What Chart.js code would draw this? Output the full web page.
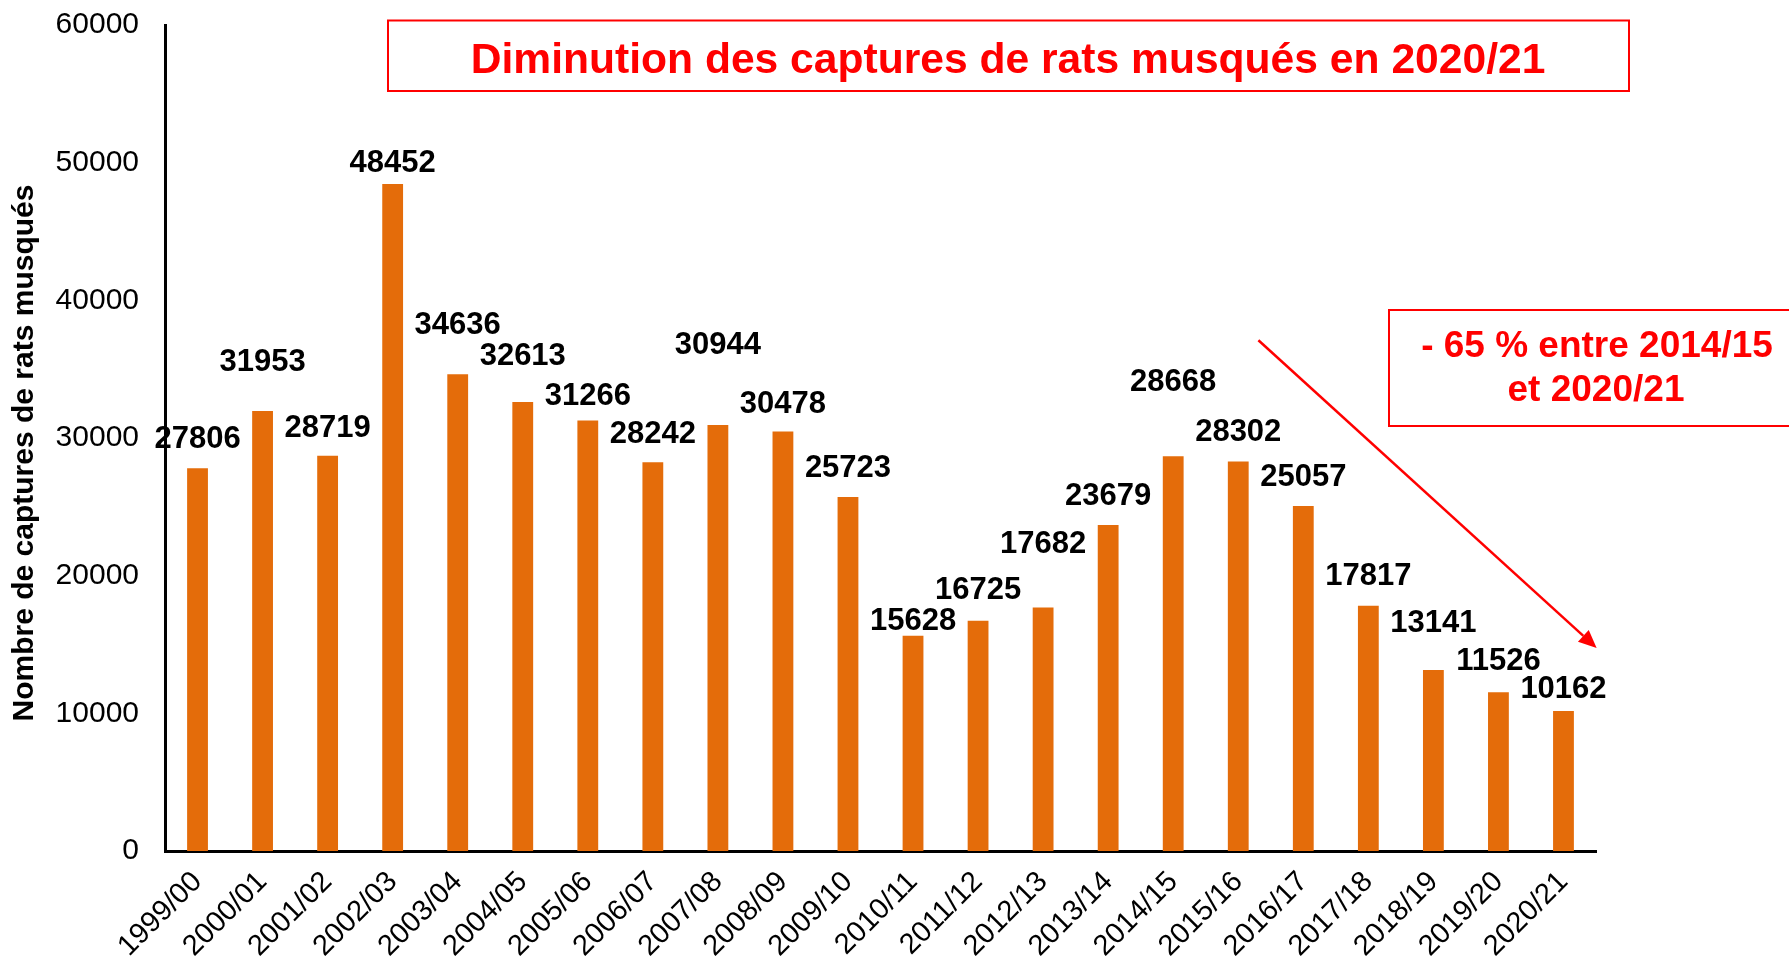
<!DOCTYPE html>
<html lang="fr">
<head>
    <meta charset="UTF-8">
    <title>Captures de rats musqués</title>
    <script src="https://cdn.jsdelivr.net/npm/chart.js"></script>
    <style>
        body { margin: 0; background: #fff; }
        #capturesChart { display: block; }
    </style>
</head>
<body>
    <canvas id="capturesChart" width="1789" height="967"></canvas>
    <script>
        const seasons = ['1999/00', '2000/01', '2001/02', '2002/03', '2003/04', '2004/05', '2005/06',
            '2006/07', '2007/08', '2008/09', '2009/10', '2010/11', '2011/12', '2012/13', '2013/14',
            '2014/15', '2015/16', '2016/17', '2017/18', '2018/19', '2019/20', '2020/21'];
        const captures = [27806, 31953, 28719, 48452, 34636, 32613, 31266, 28242, 30944, 30478, 25723,
            15628, 16725, 17682, 23679, 28668, 28302, 25057, 17817, 13141, 11526, 10162];
        const yTicks = [0, 10000, 20000, 30000, 40000, 50000, 60000];

        // how far above each bar its value label sits (labels were moved by hand in the original)
        const labelLift = [29, 49, 27, 21, 49, 46, 24, 28, 80, 27, 28, 14, 30, 63, 29, 74, 29, 29, 29, 47, 31, 22];

        const titleText = 'Diminution des captures de rats musqués en 2020/21';
        const yTitle = 'Nombre de captures de rats musqués';
        const noteLines = ['- 65 % entre 2014/15', 'et 2020/21'];
        // arrow in data units (category index, value)
        const arrowFrom = { x: 16.31, y: 37100 };
        const arrowTo = { x: 21.51, y: 14750 };

        const FONT = "'Liberation Sans', Arial, sans-serif";
        const RED = '#FF0000';

        const valueLabels = {
            id: 'valueLabels',
            afterDatasetsDraw(chart) {
                const ctx = chart.ctx;
                const bars = chart.getDatasetMeta(0).data;
                ctx.save();
                ctx.font = 'bold 31px ' + FONT;
                ctx.fillStyle = '#000';
                ctx.textAlign = 'center';
                ctx.textBaseline = 'middle';
                bars.forEach((bar, i) => {
                    ctx.fillText(String(captures[i]), bar.x, bar.y - labelLift[i]);
                });
                ctx.restore();
            }
        };

        const annotations = {
            id: 'annotations',
            afterDraw(chart) {
                const ctx = chart.ctx;
                const xs = chart.scales.x, ys = chart.scales.y;
                ctx.save();

                // y axis title, a bit below the middle of the axis as in the original
                ctx.save();
                ctx.translate(25, 453);
                ctx.rotate(-Math.PI / 2);
                ctx.font = 'bold 30px ' + FONT;
                ctx.fillStyle = '#000';
                ctx.textAlign = 'center';
                ctx.textBaseline = 'middle';
                ctx.fillText(yTitle, 0, 0);
                ctx.restore();

                // title box
                ctx.strokeStyle = RED;
                ctx.lineWidth = 2;
                ctx.strokeRect(388, 20.5, 1241, 70.5);
                ctx.fillStyle = RED;
                ctx.font = 'bold 42.6px ' + FONT;
                ctx.textAlign = 'center';
                ctx.textBaseline = 'alphabetic';
                ctx.fillText(titleText, 1008, 73);

                // note box
                ctx.strokeRect(1389, 310, 420, 116);
                ctx.font = 'bold 37px ' + FONT;
                ctx.fillText(noteLines[0], 1597, 357);
                ctx.fillText(noteLines[1], 1596, 401);

                // arrow
                const x1 = xs.getPixelForValue(arrowFrom.x), y1 = ys.getPixelForValue(arrowFrom.y);
                const x2 = xs.getPixelForValue(arrowTo.x), y2 = ys.getPixelForValue(arrowTo.y);
                const ang = Math.atan2(y2 - y1, x2 - x1);
                const headLen = 18, headW = 8;
                const bx = x2 - headLen * Math.cos(ang), by = y2 - headLen * Math.sin(ang);
                ctx.lineWidth = 2.5;
                ctx.beginPath();
                ctx.moveTo(x1, y1);
                ctx.lineTo(bx, by);
                ctx.stroke();
                ctx.beginPath();
                ctx.moveTo(x2, y2);
                ctx.lineTo(bx + headW * Math.sin(ang), by - headW * Math.cos(ang));
                ctx.lineTo(bx - headW * Math.sin(ang), by + headW * Math.cos(ang));
                ctx.closePath();
                ctx.fill();

                ctx.restore();
            }
        };

        new Chart(document.getElementById('capturesChart'), {
            type: 'bar',
            data: {
                labels: seasons,
                datasets: [{
                    data: captures,
                    backgroundColor: '#E46C0A',
                    barPercentage: 0.32,
                    categoryPercentage: 1
                }]
            },
            options: {
                responsive: false,
                animation: false,
                layout: { padding: { left: 0, right: 193, top: 25, bottom: 0 } },
                plugins: {
                    legend: { display: false },
                    tooltip: { enabled: false }
                },
                scales: {
                    x: {
                        grid: { display: false, drawTicks: false },
                        border: { display: true, color: '#000', width: 3 },
                        ticks: {
                            color: '#000',
                            font: { family: FONT, size: 29 },
                            minRotation: 45,
                            maxRotation: 45,
                            autoSkip: false,
                            padding: 14
                        },
                        afterFit(scale) { scale.height = 116; }
                    },
                    y: {
                        min: 0,
                        max: 60000,
                        afterBuildTicks(scale) { scale.ticks = yTicks.map(v => ({ value: v })); },
                        grid: { display: false, drawTicks: false },
                        border: { display: true, color: '#000', width: 3 },
                        ticks: {
                            color: '#000',
                            font: { family: FONT, size: 30 },
                            padding: 26,
                            callback: v => String(v)
                        },
                        afterFit(scale) {
                            scale.width = 165;
                            // the top label may stick out above the axis, like the original
                            scale.paddingTop = 0;
                            scale.paddingBottom = 0;
                        }
                    }
                }
            },
            plugins: [valueLabels, annotations]
        });
    </script>
</body>
</html>
